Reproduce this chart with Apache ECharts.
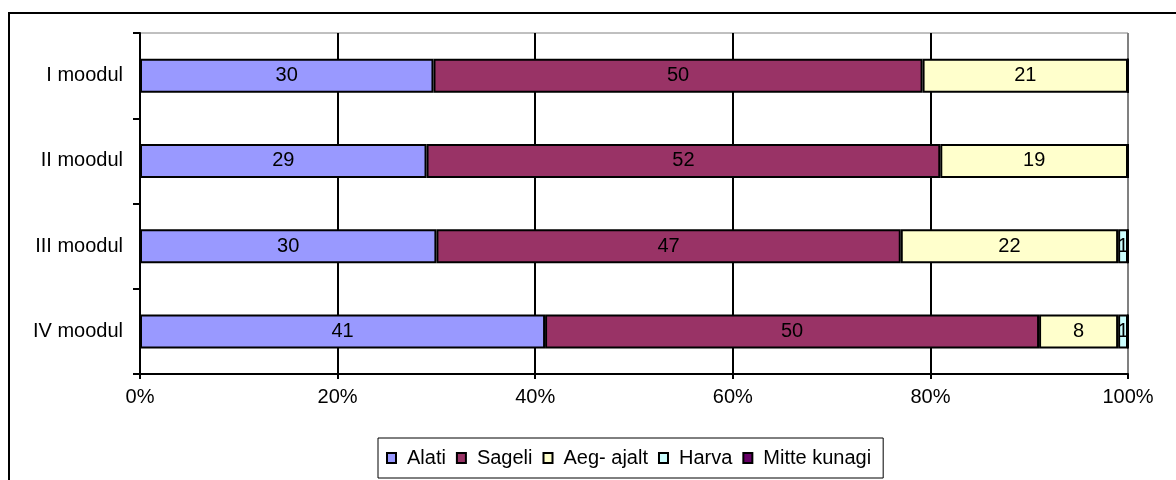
<!DOCTYPE html>
<html><head><meta charset="utf-8">
<script src="https://cdn.jsdelivr.net/npm/echarts@6/dist/echarts.min.js"></script>
<style>html,body{margin:0;padding:0;background:#fff}#c{width:1176px;height:480px}</style>
</head><body><div id="c"></div>
<script>
const categories = ['I moodul', 'II moodul', 'III moodul', 'IV moodul'];
const seriesNames = ['Alati', 'Sageli', 'Aeg- ajalt', 'Harva', 'Mitte kunagi'];
const alati = [30, 29, 30, 41];
const sageli = [50, 52, 47, 50];
const aegAjalt = [21, 19, 22, 8];
const harva = [0, 0, 1, 1];
const mitteKunagi = [0, 0, 0, 0];
const xTicks = [0, 20, 40, 60, 80, 100];
const colors = ['#9999FF', '#993366', '#FFFFCC', '#CCFFFF', '#660066'];

const raw = [alati, sageli, aegAjalt, harva, mitteKunagi];
const totals = categories.map((_, i) => raw.reduce((s, a) => s + a[i], 0));

const chart = echarts.init(document.getElementById('c'), null, {renderer: 'canvas'});
const font = 'Liberation Sans, Arial, sans-serif';
chart.setOption({
  animation: false,
  textStyle: {fontFamily: font},
  graphic: [{type: 'rect', shape: {x: 9, y: 13, width: 1200, height: 500}, style: {fill: 'none', stroke: '#000', lineWidth: 2}, z: 100}],
  grid: {left: 140, top: 33, width: 988, height: 341, show: true, borderColor: '#808080', borderWidth: 1, backgroundColor: 'transparent'},
  legend: {
    left: 378, top: 438, orient: 'horizontal',
    data: seriesNames,
    icon: 'rect', itemWidth: 9, itemHeight: 10, itemGap: 10,
    borderColor: '#000', borderWidth: 1, padding: [10, 12, 10, 8],
    textStyle: {fontSize: 20, color: '#000', fontFamily: font, padding: [0, 0, 0, 6]}
  },
  xAxis: {
    type: 'value', min: 0, max: 100, interval: 20,
    axisLine: {show: true, lineStyle: {color: '#000', width: 2}},
    axisTick: {show: true, length: 5, lineStyle: {color: '#000', width: 2}},
    axisLabel: {formatter: v => xTicks.includes(v) ? v + '%' : '', fontSize: 20, color: '#000', margin: 13, fontFamily: font},
    splitLine: {show: true, lineStyle: {color: ['#000', '#000', '#000', '#000', '#000', '#808080'], width: 2}}
  },
  yAxis: {
    type: 'category', data: categories, inverse: true,
    axisLine: {show: true, lineStyle: {color: '#000', width: 2}},
    axisTick: {show: true, length: 7, alignWithLabel: false, lineStyle: {color: '#000', width: 2}},
    axisLabel: {fontSize: 20, color: '#000', margin: 17, fontFamily: font}
  },
  series: seriesNames.map((name, k) => ({
    name, type: 'bar', stack: 'total', barWidth: 34,
    itemStyle: {color: colors[k], borderColor: '#000', borderWidth: 2},
    label: {
      show: true, position: 'inside', color: '#000', fontSize: 20, fontFamily: font,
      formatter: p => raw[k][p.dataIndex] ? String(raw[k][p.dataIndex]) : ''
    },
    data: raw[k].map((v, i) => v / totals[i] * 100)
  }))
});
</script></body></html>
